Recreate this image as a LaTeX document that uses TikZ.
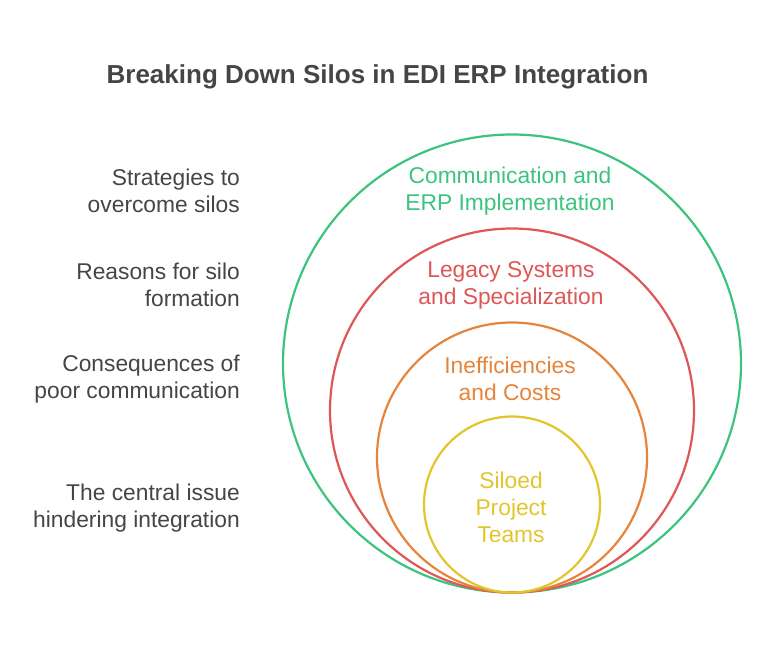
\documentclass[tikz,border=0pt]{standalone}
\usepackage{fontspec}
\setmainfont{Liberation Sans}
\definecolor{cgreen}{HTML}{3CC47E}
\definecolor{cred}{HTML}{DE5656}
\definecolor{corange}{HTML}{E5843A}
\definecolor{cyellow}{HTML}{E2C52A}
\definecolor{ctext}{HTML}{454545}
\begin{document}
\begin{tikzpicture}[x=1bp,y=-1bp,
  ring/.style={draw=#1, line width=2.2bp},
  lbl/.style={font=\fontsize{22.8bp}{27bp}\selectfont, text=#1, align=center, inner sep=0pt},
  side/.style={font=\fontsize{22.8bp}{27bp}\selectfont, text=ctext, align=right, anchor=east, inner sep=0pt}]
\useasboundingbox (0,0) rectangle (768,647);
\node[font=\bfseries\fontsize{26bp}{30bp}\selectfont, text=ctext, inner sep=0pt] (title) at (377.5,77) {Breaking Down Silos in EDI ERP Integration};
\draw[ring=cgreen] (512,363.5) circle[radius=229];
\draw[ring=cred] (512,410.5) circle[radius=182];
\draw[ring=corange] (512,457.5) circle[radius=135];
\draw[ring=cyellow] (512,504.5) circle[radius=88];
\node[lbl=cgreen] (g) at (510,191) {Communication and\\ERP Implementation};
\node[lbl=cred] (r) at (511,285) {Legacy Systems\\and Specialization};
\node[lbl=corange] (o) at (510,379) {Inefficiencies\\and Costs};
\node[lbl=cyellow] (y) at (511,507.5) {Siloed\\Project\\Teams};
\node[side] (s1) at (240,191) {Strategies to\\overcome silos};
\node[side] (s2) at (240,285) {Reasons for silo\\formation};
\node[side] (s3) at (240,379) {Consequences of\\poor communication};
\node[side] (s4) at (240,508) {The central issue\\hindering integration};
\end{tikzpicture}
\end{document}
